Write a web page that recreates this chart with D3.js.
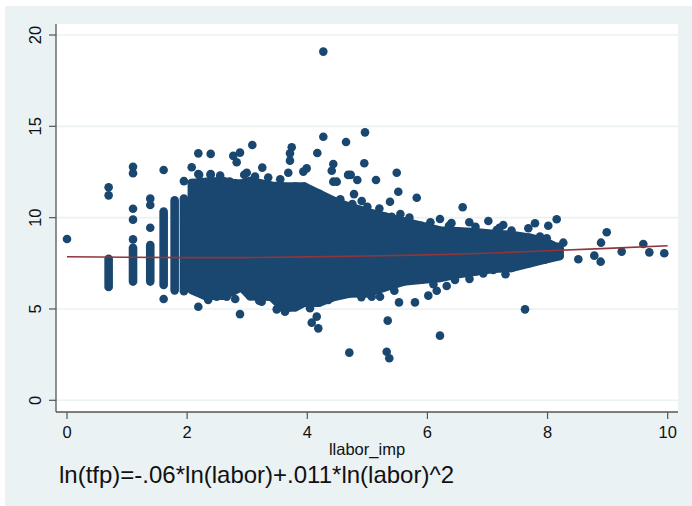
<!DOCTYPE html>
<html>
<head>
<meta charset="utf-8">
<script src="https://cdn.jsdelivr.net/npm/d3@7"></script>
<style>
html,body{margin:0;padding:0;background:#fff;}
svg{display:block;font-family:"Liberation Sans",Arial,sans-serif;}
</style>
</head>
<body>
<svg id="chart" width="692" height="506"></svg>
<script>
// ---- data ----
const xTicks = [0, 2, 4, 6, 8, 10];
const yTicks = [0, 5, 10, 15, 20];
const xTitle = "llabor_imp";
const noteText = "ln(tfp)=-.06*ln(labor)+.011*ln(labor)^2";

// discrete columns of stacked markers at small labor values
const columnX    = [0.693, 1.099, 1.386, 1.609, 1.792, 1.946];
const columnLow  = [6.2, 6.5, 6.5, 6.31, 6.02, 5.97];
const columnHigh = [7.75, 8.35, 8.5, 10.33, 10.95, 11.05];

// dense cloud envelope (marker centres)
const cloudX      = [2.079, 2.3, 2.6, 2.75, 2.9, 3.05, 3.4, 3.6, 3.8, 3.95, 4.2, 4.45, 4.7, 5.0, 5.3, 5.6, 5.9, 6.2, 6.5, 6.8, 7.1, 7.4, 7.7, 7.95, 8.2];
const cloudTop    = [11.9, 11.95, 12.0, 11.9, 11.85, 12.0, 11.75, 11.7, 11.7, 11.7, 11.3, 10.9, 10.6, 10.3, 10.05, 9.8, 9.55, 9.3, 9.25, 9.2, 9.1, 9.05, 8.9, 8.7, 8.3];
const cloudBottom = [6.04, 5.72, 5.72, 5.95, 6.2, 5.7, 5.67, 5.05, 5.1, 5.35, 5.35, 5.67, 5.85, 5.87, 6.2, 6.5, 6.6, 6.7, 6.9, 7.05, 7.2, 7.25, 7.5, 7.7, 7.9];

// individual scattered markers
const pointX = [0, 0.693, 0.693, 1.099, 1.099, 1.099, 1.099, 1.099, 1.386, 1.386, 1.386, 1.609, 1.609, 1.946,
  2.076, 2.186, 2.392, 3.085, 2.768, 2.88, 2.825, 3.741, 3.712, 3.712, 2.186, 2.392, 2.992, 3.251, 3.684, 3.934,
  4.267, 4.267, 4.961, 4.645, 4.167, 3.99, 4.433, 4.407, 4.949, 4.723, 4.833, 5.489, 5.144, 4.433, 5.515, 4.778,
  5.822, 5.377, 4.906, 5.405, 6.587, 6.209, 6.697, 7.014, 7.791, 8.012, 6.359, 7.874, 8.152, 8.985, 8.89, 9.594,
  9.234, 9.694, 9.943, 8.512, 8.778, 8.884, 8.262, 8.179, 7.986, 7.625, 6.209, 4.7, 5.322, 5.365, 5.339, 4.157,
  4.074, 4.183, 4.045, 2.186, 2.88, 2.492, 2.659, 3.241, 3.491, 3.629, 3.684, 3.934, 5.527, 5.793, 6.015, 6.155,
  6.321, 6.459, 6.93, 7.097, 7.846, 5.211, 5.073, 7.263, 7.153, 7.513, 7.68, 7.736, 6.015,
  2.2, 2.39, 2.71, 3.13, 4.49, 4.68, 2.55, 3.35, 3.55, 2.95,
  4.55, 4.75, 5.0, 5.2, 5.55, 5.7, 6.05, 6.4, 6.8, 7.2, 7.4,
  2.35, 2.8, 3.2, 4.35, 4.9, 5.45, 6.1, 6.7, 7.3];
const pointY = [8.83, 11.66, 11.22, 12.79, 12.43, 10.49, 9.89, 8.81, 11.04, 10.69, 9.45, 12.61, 5.55, 12.0,
  12.76, 13.52, 13.49, 13.98, 13.38, 13.56, 13.03, 13.85, 13.52, 13.12, 12.39, 12.39, 12.46, 12.74, 12.46, 12.52,
  19.09, 14.43, 14.67, 14.14, 13.54, 12.7, 12.94, 12.57, 12.98, 12.34, 12.06, 12.46, 12.06, 11.97, 11.42, 11.29,
  11.09, 10.87, 10.91, 10.05, 10.57, 9.93, 9.75, 9.82, 9.69, 9.56, 9.56, 8.96, 9.91, 9.2, 8.63, 8.56,
  8.14, 8.1, 8.05, 7.72, 7.92, 7.59, 8.63, 8.41, 8.87, 4.98, 3.54, 2.61, 2.66, 2.3, 4.36, 4.58,
  4.25, 3.94, 5.04, 5.12, 4.72, 5.67, 5.67, 5.4, 4.98, 4.85, 5.09, 5.35, 5.36, 5.36, 5.73, 6.0,
  6.26, 6.59, 6.95, 7.13, 7.77, 5.67, 5.67, 9.6, 9.32, 8.96, 9.42, 8.32, 9.56,
  12.34, 12.34, 11.97, 12.25, 11.97, 12.34, 12.3, 12.2, 12.1, 12.35,
  11.0, 10.75, 10.6, 10.5, 10.2, 10.0, 9.75, 9.7, 9.5, 9.45, 9.3,
  5.5, 5.55, 5.45, 5.5, 5.65, 6.0, 6.35, 6.65, 6.9];

// fitted quadratic line (read at integer x)
const fitX = [0, 1, 2, 3, 4, 5, 6, 7, 8, 9, 10];
const fitY = [7.86, 7.83, 7.81, 7.81, 7.85, 7.9, 7.96, 8.05, 8.19, 8.32, 8.46];

// ---- drawing ----
const navy = "#1a476f", maroon = "#90353b", bgCol = "#eaf2f3";
const svg = d3.select("#chart");
const W = 692, H = 506;
const plot = {left: 56, top: 24, right: 678, bottom: 412};

const x = d3.scaleLinear().domain([0, 10]).range([67, 667.7]);
const y = d3.scaleLinear().domain([0, 20]).range([400.3, 35]);

svg.append("rect").attr("x", 5).attr("y", 6).attr("width", W - 5).attr("height", H - 6).attr("fill", bgCol);
svg.append("rect").attr("x", plot.left).attr("y", plot.top)
  .attr("width", plot.right - plot.left).attr("height", plot.bottom - plot.top).attr("fill", "#fff");

// gridlines
svg.append("g").selectAll("line").data(yTicks).join("line")
  .attr("x1", plot.left).attr("x2", plot.right)
  .attr("y1", d => y(d)).attr("y2", d => y(d))
  .attr("stroke", bgCol).attr("stroke-width", 1.6);

const R = 4.3;
const marks = svg.append("g");

// columns
marks.selectAll("line.col").data(columnX).join("line").attr("class", "col")
  .attr("x1", d => x(d)).attr("x2", d => x(d))
  .attr("y1", (d, i) => y(columnLow[i])).attr("y2", (d, i) => y(columnHigh[i]))
  .attr("stroke", navy).attr("stroke-width", 2 * R).attr("stroke-linecap", "round");

// dense cloud
const cloud = cloudX.map((d, i) => ({x: d, t: cloudTop[i], b: cloudBottom[i]}));
marks.append("path").datum(cloud)
  .attr("d", d3.area().x(d => x(d.x)).y0(d => y(d.b)).y1(d => y(d.t)))
  .attr("fill", navy).attr("stroke", navy).attr("stroke-width", 2 * R).attr("stroke-linejoin", "round");
marks.selectAll("circle.edge").data(cloud.flatMap(d => [[d.x, d.t], [d.x, d.b]])).join("circle").attr("class", "edge")
  .attr("cx", d => x(d[0])).attr("cy", d => y(d[1])).attr("r", R).attr("fill", navy);

// individual points
marks.selectAll("circle.pt").data(pointX.map((d, i) => [d, pointY[i]])).join("circle").attr("class", "pt")
  .attr("cx", d => x(d[0])).attr("cy", d => y(d[1])).attr("r", R).attr("fill", navy);

// fit line
svg.append("path").datum(fitX.map((d, i) => [d, fitY[i]]))
  .attr("d", d3.line().x(d => x(d[0])).y(d => y(d[1])))
  .attr("fill", "none").attr("stroke", maroon).attr("stroke-width", 1.6);

// axes
const axCol = "#555";
svg.append("line").attr("x1", plot.left).attr("x2", plot.left).attr("y1", plot.top).attr("y2", plot.bottom)
  .attr("stroke", axCol).attr("stroke-width", 1.3);
svg.append("line").attr("x1", plot.left).attr("x2", plot.right).attr("y1", plot.bottom).attr("y2", plot.bottom)
  .attr("stroke", axCol).attr("stroke-width", 1.3);

const yAxis = svg.append("g");
yAxis.selectAll("line").data(yTicks).join("line")
  .attr("x1", plot.left - 7).attr("x2", plot.left).attr("y1", d => y(d)).attr("y2", d => y(d))
  .attr("stroke", axCol).attr("stroke-width", 1.2);
yAxis.selectAll("text").data(yTicks).join("text")
  .attr("transform", d => `translate(41,${y(d)}) rotate(-90)`)
  .attr("text-anchor", "middle").attr("font-size", 16.5).attr("fill", "#111").text(d => d);

const xAxis = svg.append("g");
xAxis.selectAll("line").data(xTicks).join("line")
  .attr("x1", d => x(d)).attr("x2", d => x(d)).attr("y1", plot.bottom).attr("y2", plot.bottom + 7)
  .attr("stroke", axCol).attr("stroke-width", 1.2);
xAxis.selectAll("text").data(xTicks).join("text")
  .attr("x", d => x(d)).attr("y", 438)
  .attr("text-anchor", "middle").attr("font-size", 16.5).attr("fill", "#111").text(d => d);

svg.append("text").attr("x", 367).attr("y", 455).attr("text-anchor", "middle")
  .attr("font-size", 16.5).attr("fill", "#111").text(xTitle);

svg.append("text").attr("x", 59).attr("y", 483).attr("font-size", 24).attr("fill", "#111").text(noteText);
</script>
</body>
</html>
